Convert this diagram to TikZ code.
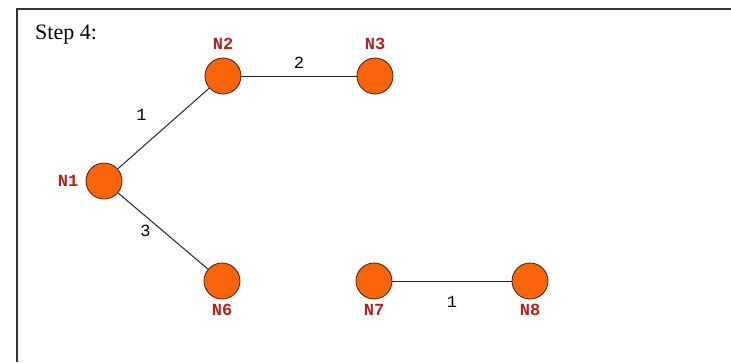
\documentclass[tikz,border=0pt]{standalone}
\usepackage{fontspec}
\setmainfont{Liberation Serif}
\newfontfamily\labelfont{Liberation Mono}
\usetikzlibrary{positioning}
\definecolor{nodeorange}{RGB}{250, 100, 10}
\definecolor{nodeborder}{RGB}{60, 30, 20}
\definecolor{labelred}{RGB}{175, 35, 35}
\definecolor{framegray}{RGB}{50, 50, 50}

\begin{document}
\begin{tikzpicture}[
    x=1pt, y=-1pt,
    vertex/.style={
        circle, draw=nodeborder, fill=nodeorange, line width=0.8pt,
        minimum size=36pt, inner sep=0pt
    },
    vname/.style={
        font=\labelfont\bfseries\fontsize{17}{17}\selectfont, text=labelred, inner sep=1pt
    },
    edge/.style={
        draw=black!85, line width=1pt
    },
    weight/.style={
        font=\labelfont\fontsize{17}{17}\selectfont, text=black, inner sep=1pt
    }
]
\useasboundingbox (0,0) rectangle (731,362);

% Frame
\draw[framegray, line width=2pt] (17,362) -- (17,9) -- (731,9);
\node[anchor=base west, font=\fontsize{22}{22}\selectfont, inner sep=0pt] (title) at (35,39) {Step 4:};

% Nodes
\node[vertex, label={[vname, label distance=6pt]left:N1}] (n1) at (104,181) {};
\node[vertex, label={[vname, label distance=7pt]above:N2}] (n2) at (223,76) {};
\node[vertex, label={[vname, label distance=7pt]above:N3}] (n3) at (375,76) {};
\node[vertex, label={[vname, label distance=4pt]below:N6}] (n6) at (222,281) {};
\node[vertex, label={[vname, label distance=4pt]below:N7}] (n7) at (374,281) {};
\node[vertex, label={[vname, label distance=4pt]below:N8}] (n8) at (530,281) {};

% Edges
\draw[edge] (n1) -- node[weight, xshift=-22pt, yshift=14pt]{1} (n2);
\draw[edge] (n2) -- node[weight, above=6pt]{2} (n3);
\draw[edge] (n1) -- node[weight, left=11pt]{3} (n6);
\draw[edge] (n7) -- node[weight, below=14pt]{1} (n8);

\end{tikzpicture}
\end{document}
